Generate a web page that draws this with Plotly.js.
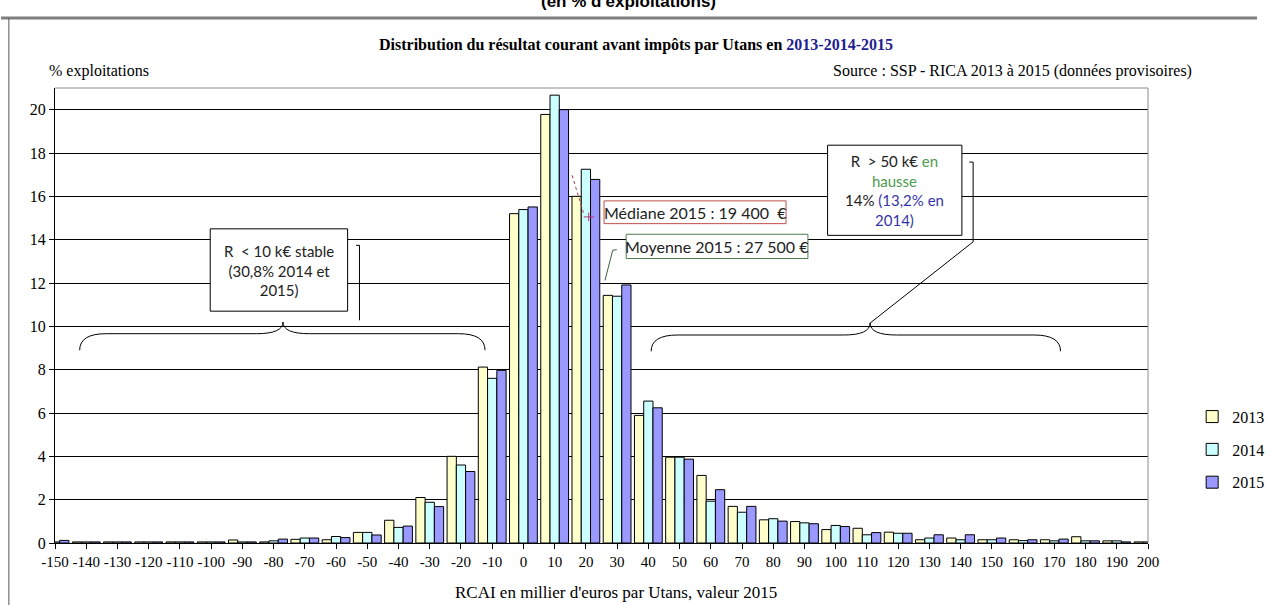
<!DOCTYPE html>
<html>
<head>
<meta charset="utf-8">
<script src="https://cdn.plot.ly/plotly-3.0.1.min.js"></script>
<style>
  html, body { margin: 0; padding: 0; background: #ffffff; }
  #chart { width: 1281px; height: 605px; }
</style>
</head>
<body>
<div id="chart"></div>
<script>
// Classes de RCAI par Utans (k€, valeur 2015)
const categories = [-150, -140, -130, -120, -110, -100, -90, -80, -70, -60, -50, -40, -30, -20, -10,
  0, 10, 20, 30, 40, 50, 60, 70, 80, 90, 100, 110, 120, 130, 140, 150, 160, 170, 180, 190, 200];

// Part des exploitations (%) par classe
const values2013 = [0.05, 0.05, 0.05, 0.05, 0.05, 0.05, 0.14, 0.05, 0.17, 0.15, 0.49, 1.05, 2.10, 4.00, 8.12,
  15.20, 19.78, 16.00, 11.43, 5.89, 3.96, 3.12, 1.69, 1.07, 0.99, 0.62, 0.68, 0.50, 0.15, 0.23, 0.15, 0.15, 0.15, 0.29, 0.10, 0.05];
const values2014 = [0.05, 0.05, 0.05, 0.05, 0.05, 0.05, 0.05, 0.10, 0.23, 0.30, 0.49, 0.72, 1.88, 3.60, 7.60,
  15.39, 20.67, 17.25, 11.39, 6.55, 3.96, 1.93, 1.42, 1.12, 0.93, 0.81, 0.38, 0.45, 0.23, 0.15, 0.15, 0.11, 0.10, 0.10, 0.10, 0.05];
const values2015 = [0.12, 0.05, 0.05, 0.05, 0.05, 0.05, 0.05, 0.18, 0.23, 0.25, 0.37, 0.78, 1.68, 3.30, 7.97,
  15.51, 20.00, 16.78, 11.91, 6.24, 3.87, 2.46, 1.69, 1.01, 0.89, 0.76, 0.48, 0.45, 0.38, 0.38, 0.23, 0.15, 0.18, 0.10, 0.05, 0.05];

const seriesNames = ['2013', '2014', '2015'];
const seriesColors = ['#FFFFCC', '#CCFFFF', '#9999FF'];
const yTicks = [0, 2, 4, 6, 8, 10, 12, 14, 16, 18, 20];

const serif = "'Liberation Serif', 'Times New Roman', Times, serif";
const sans = "Lato, 'Noto Sans', sans-serif";

const traces = [values2013, values2014, values2015].map((vals, i) => ({
  type: 'bar',
  name: seriesNames[i],
  legendgroup: 'g' + i,
  x: categories,
  y: vals,
  marker: { color: seriesColors[i], line: { color: '#000000', width: 1 } },
  hoverinfo: 'x+y+name'
}));

// Accolade horizontale, pointe vers le haut
function brace(x0, x1, xm, yEnd, yFlat, yTip, r) {
  return 'M ' + x0 + ',' + yEnd +
    ' Q ' + x0 + ',' + yFlat + ' ' + (x0 + r) + ',' + yFlat +
    ' L ' + (xm - r) + ',' + yFlat +
    ' Q ' + xm + ',' + yFlat + ' ' + xm + ',' + yTip +
    ' Q ' + xm + ',' + yFlat + ' ' + (xm + r) + ',' + yFlat +
    ' L ' + (x1 - r) + ',' + yFlat +
    ' Q ' + x1 + ',' + yFlat + ' ' + x1 + ',' + yEnd;
}

function box(x0, x1, y0, y1, color) {
  return { type: 'rect', xref: 'x', yref: 'y', x0: x0, x1: x1, y0: y0, y1: y1,
    line: { color: color, width: 1 }, fillcolor: '#ffffff', layer: 'above' };
}
function seg(x0, y0, x1, y1, color, dash, width) {
  return { type: 'line', xref: 'x', yref: 'y', x0: x0, y0: y0, x1: x1, y1: y1,
    line: { color: color, width: width || 1, dash: dash || 'solid' }, layer: 'above' };
}

const shapes = [
  // cadre de la zone graphique
  { type: 'line', xref: 'paper', yref: 'paper', x0: -0.0494, x1: 1.0998, y0: 1.1538, y1: 1.1538,
    line: { color: '#7f7f7f', width: 3 } },
  { type: 'line', xref: 'paper', yref: 'paper', x0: -0.0422, x1: -0.0422, y0: 1.1538, y1: -0.15,
    line: { color: '#555555', width: 1 } },
  // bords haut et droit du tracé
  { type: 'line', xref: 'paper', yref: 'paper', x0: 0, x1: 1, y0: 1, y1: 1, line: { color: '#8c8c8c', width: 1 } },
  { type: 'line', xref: 'paper', yref: 'paper', x0: 1, x1: 1, y0: 0, y1: 1, line: { color: '#8c8c8c', width: 1 } },

  // accolades
  { type: 'path', xref: 'x', yref: 'y', path: brace(-142.1, -12.3, -77.0, 8.9, 9.66, 10.2, 8.5),
    line: { color: '#000000', width: 1 }, layer: 'above' },
  { type: 'path', xref: 'x', yref: 'y', path: brace(40.9, 172.0, 111.0, 8.85, 9.6, 10.15, 8.5),
    line: { color: '#000000', width: 1 }, layer: 'above' },

  // crochets de rappel
  seg(-52.5, 13.74, -52.5, 10.28, '#000000'),
  seg(-53.6, 13.74, -52.5, 13.74, '#000000'),
  seg(144.0, 17.58, 144.0, 13.9, '#000000'),
  seg(142.8, 17.58, 144.0, 17.58, '#000000'),
  seg(144.0, 13.9, 111.0, 10.15, '#000000'),

  // encadrés
  box(-100.3, -56.3, 10.7, 14.5, '#000000'),
  box(97.4, 140.4, 14.2, 18.36, '#000000'),
  box(25.8, 84.1, 14.74, 15.79, '#c0504d'),
  box(32.9, 91.1, 13.13, 14.25, '#4f7a4f'),

  // médiane
  seg(15.6, 16.97, 19.3, 15.2, '#b04040', 'dot', 1),
  seg(19.3, 15.05, 22.6, 15.05, '#c0307a'),
  seg(20.9, 15.25, 20.9, 14.85, '#c0307a'),
  // moyenne
  seg(26.1, 12.12, 28.6, 13.51, '#3f5f3f'),
  seg(28.6, 13.51, 29.9, 13.54, '#3f5f3f')
];

const annotations = [
  { xref: 'paper', yref: 'paper', x: 0.525, y: 1.1912, text: "<b>(en % d'exploitations)</b>",
    showarrow: false, xanchor: 'center', yanchor: 'middle',
    font: { family: "'Liberation Sans', Arial, sans-serif", size: 17, color: '#000000' } },
  { xref: 'paper', yref: 'paper', x: 0.532, y: 1.0945,
    text: '<b>Distribution du résultat courant avant impôts par Utans en <span style="color:#1f1f8f">2013-2014-2015</span></b>',
    showarrow: false, xanchor: 'center', yanchor: 'middle',
    font: { family: serif, size: 16, color: '#000000' } },
  { xref: 'paper', yref: 'paper', x: -0.0072, y: 1.0374, text: '% exploitations',
    showarrow: false, xanchor: 'left', yanchor: 'middle',
    font: { family: serif, size: 16, color: '#000000' } },
  { xref: 'paper', yref: 'paper', x: 1.0422, y: 1.0374, text: 'Source : SSP - RICA 2013 à 2015 (données provisoires)',
    showarrow: false, xanchor: 'right', yanchor: 'middle',
    font: { family: serif, size: 16, color: '#000000' } },
  { xref: 'paper', yref: 'paper', x: 0.513, y: -0.1077, text: "RCAI en millier d'euros par Utans, valeur 2015",
    showarrow: false, xanchor: 'center', yanchor: 'middle',
    font: { family: serif, size: 17, color: '#000000' } },

  { xref: 'x', yref: 'y', x: -78.3, y: 12.6, text: 'R  < 10 k€ stable<br>(30,8% 2014 et<br>2015)',
    showarrow: false, xanchor: 'center', yanchor: 'middle',
    font: { family: sans, size: 15, color: '#222222' } },
  { xref: 'x', yref: 'y', x: 118.9, y: 16.28,
    text: 'R  > 50 k€ <span style="color:#4f9a4f">en</span><br><span style="color:#4f9a4f">hausse</span><br>14% <span style="color:#3535a8">(13,2% en</span><br><span style="color:#3535a8">2014)</span>',
    showarrow: false, xanchor: 'center', yanchor: 'middle',
    font: { family: sans, size: 15, color: '#222222' } },
  { xref: 'x', yref: 'y', x: 54.95, y: 15.265, text: 'Médiane 2015 : 19 400  €',
    showarrow: false, xanchor: 'center', yanchor: 'middle',
    font: { family: sans, size: 16, color: '#222222' } },
  { xref: 'x', yref: 'y', x: 62.0, y: 13.69, text: 'Moyenne 2015 : 27 500 €',
    showarrow: false, xanchor: 'center', yanchor: 'middle',
    font: { family: sans, size: 16, color: '#222222' } }
];

const layout = {
  width: 1281,
  height: 605,
  margin: { l: 55, r: 113, t: 88, b: 62, pad: 0 },
  paper_bgcolor: '#ffffff',
  plot_bgcolor: '#ffffff',
  font: { family: serif, size: 16, color: '#000000' },
  barmode: 'group',
  bargap: 0.11,
  bargroupgap: 0,
  showlegend: true,
  legend: {
    x: 1.0404, y: 0.315, xanchor: 'left', yanchor: 'top',
    font: { family: serif, size: 16, color: '#000000' },
    bgcolor: 'rgba(0,0,0,0)', borderwidth: 0, tracegroupgap: 9, itemwidth: 30
  },
  xaxis: {
    range: [-150, 200],
    tickmode: 'array',
    tickvals: categories,
    ticktext: categories.map(String),
    tickangle: 0,
    ticks: 'outside', ticklen: 5, tickcolor: '#000000', tickwidth: 1,
    showgrid: false, zeroline: false,
    showline: true, linecolor: '#000000', linewidth: 1,
    tickfont: { family: serif, size: 15, color: '#000000' },
    fixedrange: true
  },
  yaxis: {
    range: [0, 21],
    tickmode: 'array',
    tickvals: yTicks,
    ticktext: yTicks.map(String),
    ticks: 'outside', ticklen: 5, tickcolor: '#000000', tickwidth: 1,
    showgrid: true, gridcolor: '#000000', gridwidth: 1,
    zeroline: false,
    showline: true, linecolor: '#000000', linewidth: 1,
    tickfont: { family: serif, size: 16, color: '#000000' },
    fixedrange: true
  },
  shapes: shapes,
  annotations: annotations
};

Plotly.newPlot('chart', traces, layout, { displayModeBar: false, staticPlot: true });
</script>
</body>
</html>
